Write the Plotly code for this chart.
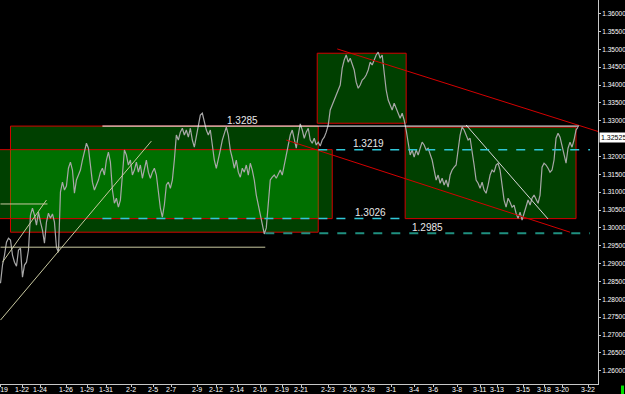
import plotly.graph_objects as go

# ---- price series: one close every 2 bars ----
closes = [
    1.2845, 1.2896, 1.2924, 1.2960, 1.2971, 1.2966, 1.2924, 1.2904, 1.2893, 1.2938,
    1.2943, 1.2862, 1.2896, 1.2904, 1.2938, 1.3036, 1.3055, 1.3036, 1.3008, 1.3044,
    1.3016, 1.2994, 1.2957, 1.3016, 1.3041, 1.3027, 1.3039, 1.3016, 1.2946, 1.2932,
    1.3100, 1.3128, 1.3106, 1.3117, 1.3167, 1.3184, 1.3162, 1.3097, 1.3134, 1.3148,
    1.3162, 1.3190, 1.3218, 1.3237, 1.3223, 1.3176, 1.3128, 1.3106, 1.3120, 1.3134,
    1.3156, 1.3167, 1.3148, 1.3190, 1.3212, 1.3184, 1.3106, 1.3069, 1.3083, 1.3058,
    1.3078, 1.3162, 1.3218, 1.3204, 1.3176, 1.3190, 1.3148, 1.3162, 1.3184, 1.3156,
    1.3176, 1.3139, 1.3162, 1.3190, 1.3156, 1.3139, 1.3156, 1.3167, 1.3148, 1.3106,
    1.3055, 1.3030, 1.3064, 1.3120, 1.3128, 1.3111, 1.3134, 1.3190, 1.3260, 1.3246,
    1.3268, 1.3279, 1.3260, 1.3274, 1.3254, 1.3279, 1.3246, 1.3226, 1.3260, 1.3288,
    1.3316, 1.3321, 1.3296, 1.3274, 1.3260, 1.3274, 1.3232, 1.3190, 1.3167, 1.3190,
    1.3218, 1.3246, 1.3265, 1.3282, 1.3260, 1.3218, 1.3195, 1.3167, 1.3190, 1.3156,
    1.3142, 1.3167, 1.3156, 1.3176, 1.3148, 1.3181, 1.3162, 1.3134, 1.3092, 1.3064,
    1.3036, 1.3016, 1.2983, 1.3000, 1.3078, 1.3134, 1.3142, 1.3148, 1.3139, 1.3153,
    1.3162, 1.3148, 1.3176, 1.3212, 1.3232, 1.3260, 1.3274, 1.3246, 1.3223, 1.3260,
    1.3291, 1.3274, 1.3251, 1.3268, 1.3279, 1.3246, 1.3237, 1.3251, 1.3232, 1.3240,
    1.3229, 1.3246, 1.3254, 1.3268, 1.3288, 1.3330, 1.3344, 1.3358, 1.3372, 1.3386,
    1.3400, 1.3447, 1.3470, 1.3484, 1.3464, 1.3475, 1.3456, 1.3442, 1.3408, 1.3391,
    1.3400, 1.3414, 1.3419, 1.3428, 1.3442, 1.3464, 1.3456, 1.3470, 1.3484, 1.3492,
    1.3475, 1.3484, 1.3428, 1.3386, 1.3358, 1.3344, 1.3330, 1.3349, 1.3335, 1.3324,
    1.3307, 1.3321, 1.3302, 1.3274, 1.3232, 1.3204, 1.3218, 1.3198, 1.3218, 1.3204,
    1.3223, 1.3240, 1.3232, 1.3218, 1.3223, 1.3204, 1.3190, 1.3162, 1.3134, 1.3148,
    1.3125, 1.3139, 1.3120, 1.3134, 1.3114, 1.3148, 1.3162, 1.3170, 1.3176, 1.3218,
    1.3260, 1.3282, 1.3274, 1.3260, 1.3246, 1.3251, 1.3218, 1.3176, 1.3134, 1.3125,
    1.3111, 1.3128, 1.3106, 1.3097, 1.3120, 1.3148, 1.3162, 1.3156, 1.3176, 1.3181,
    1.3162, 1.3120, 1.3078, 1.3058, 1.3083, 1.3072, 1.3058, 1.3064, 1.3041, 1.3027,
    1.3044, 1.3022, 1.3039, 1.3058, 1.3078, 1.3064, 1.3083, 1.3092, 1.3078, 1.3069,
    1.3092, 1.3170, 1.3181, 1.3176, 1.3167, 1.3156, 1.3162, 1.3190, 1.3251, 1.3265,
    1.3254, 1.3232, 1.3204, 1.3181, 1.3223, 1.3240, 1.3226, 1.3246, 1.3274, 1.3282,
]
bar_step = 2
bars = list(range(0, bar_step * len(closes), bar_step))

# ---- date axis ----
tick_bars = [0, 22, 40, 66, 87, 106, 131, 153, 171, 197, 216, 237, 260, 282, 301,
             328, 350, 368, 391, 414, 433, 457, 480, 497, 523, 544, 562, 588]
tick_labels = ["1-19", "1-22", "1-24", "1-26", "1-29", "1-31", "2-2", "2-5", "2-7",
               "2-9", "2-12", "2-14", "2-16", "2-19", "2-21", "2-23", "2-26", "2-28",
               "3-1", "3-4", "3-6", "3-8", "3-11", "3-13", "3-15", "3-18", "3-20", "3-22"]
x_range = [-0.5, 598]

# ---- price axis ----
price_ticks = [1.26, 1.265, 1.27, 1.275, 1.28, 1.285, 1.29, 1.295, 1.30, 1.305,
               1.31, 1.315, 1.32, 1.33, 1.335, 1.34, 1.345, 1.35, 1.355, 1.36]
y_range = [1.2563, 1.3638]
last_price = 1.32525

# ---- analysis levels ----
level_names = ["1.3285", "1.3219", "1.3026", "1.2985"]
level_values = [1.3285, 1.3219, 1.3026, 1.2985]
level_start = [102, 318, 102, 265]
level_end = [579, 590, 403, 590]
level_label_bar = [242, 368, 370, 427]

# boxes: (bar0, bar1, low, high)
box_a = [10, 318, 1.2988, 1.3285]   # wide range box
box_b = [-20, 332, 1.3026, 1.3219]  # inner range box
box_top = [317, 406, 1.3293, 1.3489]
box_right = [405, 576, 1.3026, 1.3282]

# support lines on the left
support_vals = [1.2946, 1.3067]
support_start = [0, 0]
support_end = [265, 47]

# trend lines: (bar0, price0, bar1, price1)
up_trend_1 = [0, 1.2742, 151, 1.3243]
up_trend_2 = [2, 1.2904, 46, 1.3078]
down_upper = [337, 1.3501, 598, 1.3270]
down_lower = [286, 1.3246, 570, 1.2988]
down_white = [466, 1.3288, 548, 1.3025]

RED = "#d40000"
BOX_FILL = "rgba(0,255,0,0.25)"
BEIGE = "#c8c8a0"
FONT = "Liberation Sans, Arial, sans-serif"

shapes = []
for b in (box_a, box_b, box_top, box_right):
    shapes.append(dict(type="rect", xref="x", yref="y", x0=b[0], x1=b[1], y0=b[2], y1=b[3],
                       fillcolor=BOX_FILL, line=dict(color=RED, width=1), layer="below"))

for v, s, e in zip(support_vals, support_start, support_end):
    shapes.append(dict(type="line", xref="x", yref="y", x0=s, x1=e, y0=v, y1=v,
                       line=dict(color=BEIGE, width=1)))

for t in (up_trend_1, up_trend_2):
    shapes.append(dict(type="line", xref="x", yref="y", x0=t[0], y0=t[1], x1=t[2], y1=t[3],
                       line=dict(color=BEIGE, width=1)))
for t in (down_upper, down_lower):
    shapes.append(dict(type="line", xref="x", yref="y", x0=t[0], y0=t[1], x1=t[2], y1=t[3],
                       line=dict(color=RED, width=1)))
shapes.append(dict(type="line", xref="x", yref="y", x0=down_white[0], y0=down_white[1],
                   x1=down_white[2], y1=down_white[3], line=dict(color="#d8d8d8", width=1)))

level_styles = [
    dict(color="#ffffff", width=1, dash="solid"),
    dict(color="#30c8d8", width=1.5, dash="dash"),
    dict(color="#30c8d8", width=1.5, dash="dash"),
    dict(color="#1f9080", width=2, dash="dash"),
]
for v, s, e, st in zip(level_values, level_start, level_end, level_styles):
    shapes.append(dict(type="line", xref="x", yref="y", x0=s, x1=e, y0=v, y1=v, line=st))

# small green marker bottom-right
shapes.append(dict(type="rect", xref="paper", yref="paper", x0=1.0385, x1=1.0435,
                   y0=-0.03, y1=-0.004, fillcolor="#00e000", line=dict(width=0)))

annotations = []
for name, v, lb in zip(level_names, level_values, level_label_bar):
    annotations.append(dict(x=lb, y=v, xref="x", yref="y", text=name, showarrow=False,
                            yshift=6, font=dict(color="#e8e8e8", size=10, family=FONT)))
annotations.append(dict(x=1, y=last_price, xref="paper", yref="y", text=f"{last_price:.5f}",
                        showarrow=False, xanchor="left", xshift=1, bgcolor="#ffffff",
                        borderpad=1, font=dict(color="#000000", size=7, family=FONT)))
# date labels drawn just under the axis line
for tb, tl in zip(tick_bars, tick_labels):
    annotations.append(dict(x=tb, y=0, xref="x", yref="paper", text=tl, showarrow=False,
                            yanchor="top", yshift=-1, borderpad=0,
                            font=dict(color="#ffffff", size=7, family=FONT)))

fig = go.Figure()
fig.add_trace(go.Scatter(x=bars, y=closes, mode="lines",
                         line=dict(color="#a8a8a8", width=1.2), hoverinfo="skip"))

fig.update_layout(
    width=625, height=394,
    margin=dict(l=0, r=27, t=0, b=10),
    paper_bgcolor="#000000", plot_bgcolor="#000000",
    showlegend=False,
    shapes=shapes, annotations=annotations,
    font=dict(family=FONT, color="#ffffff"),
    xaxis=dict(range=x_range, showgrid=False, zeroline=False, showline=True,
               linecolor="#c8c8c8", linewidth=1, ticks="outside", ticklen=2,
               tickcolor="#c8c8c8", tickvals=tick_bars, showticklabels=False,
               automargin=False, fixedrange=True),
    yaxis=dict(range=y_range, side="right", showgrid=False, zeroline=False, showline=True,
               linecolor="#c8c8c8", linewidth=1, ticks="outside", ticklen=2,
               tickcolor="#c8c8c8", tickvals=price_ticks, automargin=False,
               ticktext=[f"{p:.5f}" for p in price_ticks],
               tickfont=dict(size=6.5, color="#ffffff", family=FONT), fixedrange=True),
)

fig.write_html("out.html")
